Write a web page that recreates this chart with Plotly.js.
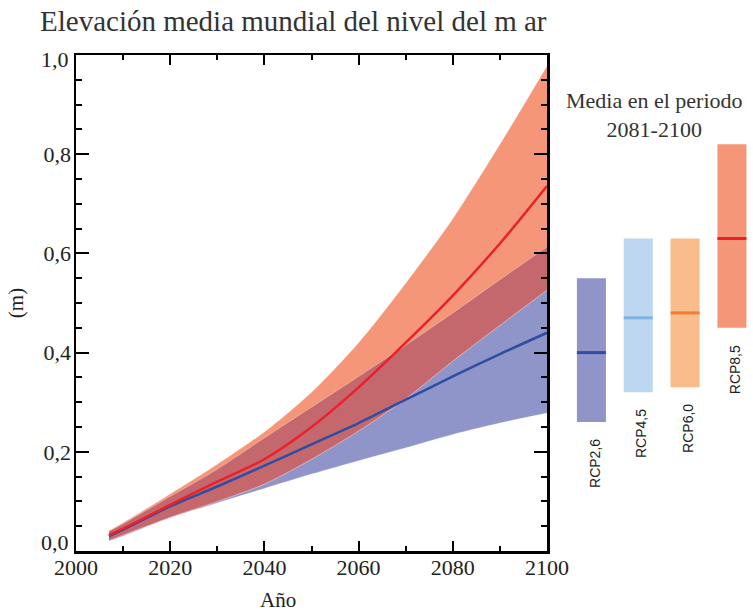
<!DOCTYPE html>
<html>
<head>
<meta charset="utf-8">
<script src="https://cdn.plot.ly/plotly-3.0.1.min.js"></script>
<style>html,body{margin:0;padding:0;background:#fff;}#chart{width:753px;height:611px;}</style>
</head>
<body>
<div id="chart"></div>
<script>
// ---- data ----
const years = [2007, 2010, 2020, 2030, 2040, 2050, 2060, 2070, 2080, 2090, 2100];
const rcp85Mean  = [0.032, 0.045, 0.093, 0.140, 0.185, 0.250, 0.330, 0.420, 0.515, 0.620, 0.736];
const rcp85Upper = [0.041, 0.057, 0.115, 0.175, 0.240, 0.320, 0.420, 0.540, 0.670, 0.820, 0.978];
const rcp85Lower = [0.021, 0.032, 0.068, 0.100, 0.135, 0.185, 0.242, 0.307, 0.383, 0.455, 0.526];
const rcp26Mean  = [0.030, 0.043, 0.090, 0.130, 0.172, 0.215, 0.258, 0.305, 0.352, 0.397, 0.440];
const rcp26Upper = [0.040, 0.055, 0.110, 0.165, 0.228, 0.290, 0.352, 0.415, 0.480, 0.547, 0.613];
const rcp26Lower = [0.020, 0.030, 0.067, 0.097, 0.126, 0.155, 0.182, 0.208, 0.235, 0.258, 0.278];

const scenarios   = ['RCP2,6', 'RCP4,5', 'RCP6,0', 'RCP8,5'];
const periodMean  = [0.40, 0.47, 0.48, 0.63];
const periodLow   = [0.26, 0.32, 0.33, 0.45];
const periodHigh  = [0.55, 0.63, 0.63, 0.82];

const yTickVals = [0, 0.2, 0.4, 0.6, 0.8, 1.0];
const xTickVals = [2000, 2020, 2040, 2060, 2080, 2100];

// ---- styles ----
const COL = {
  blueBand: '#9095C9', redBand: '#F59679', overlap: '#C5686E',
  blueLine: '#2E4DA3', redLine: '#E8212B', edge: 'rgba(255,255,255,0.35)'
};
const barFill = ['#9095C9', '#BDD7F0', '#F9BD8D', '#F59679'];
const barLine = ['#2E4DA3', '#80B3E1', '#F27E2E', '#E8212B'];
const serif = 'Liberation Serif, Times New Roman, serif';
const sans = 'Liberation Sans, Arial, sans-serif';
const tickFont = {family: serif, size: 22, color: '#222'};

const fmt = v => v.toFixed(1).replace('.', ',');
const yMin = yTickVals[0], yMax = yTickVals[yTickVals.length - 1];

const ovLow = rcp85Lower.map((v, i) => Math.max(v, rcp26Lower[i]));
const ovUp = rcp26Upper.map((v, i) => Math.min(v, rcp85Upper[i]));

const edge = {color: COL.edge, width: 0.8, shape: 'spline', smoothing: 0.8};
const traces = [
  {x: years, y: rcp26Lower, mode: 'lines', line: edge, hoverinfo: 'skip', showlegend: false},
  {x: years, y: rcp26Upper, mode: 'lines', line: edge, fill: 'tonexty', fillcolor: COL.blueBand, showlegend: false},
  {x: years, y: rcp85Lower, mode: 'lines', line: edge, hoverinfo: 'skip', showlegend: false},
  {x: years, y: rcp85Upper, mode: 'lines', line: edge, fill: 'tonexty', fillcolor: COL.redBand, showlegend: false},
  {x: years, y: ovLow, mode: 'lines', line: edge, hoverinfo: 'skip', showlegend: false},
  {x: years, y: ovUp, mode: 'lines', line: edge, fill: 'tonexty', fillcolor: COL.overlap, showlegend: false},
  {x: years, y: rcp26Mean, mode: 'lines', line: {color: COL.blueLine, width: 2.5, shape: 'spline', smoothing: 0.8}, name: 'RCP2,6', showlegend: false},
  {x: years, y: rcp85Mean, mode: 'lines', line: {color: COL.redLine, width: 2.5, shape: 'spline', smoothing: 0.8}, name: 'RCP8,5', showlegend: false},
  {type: 'bar', x: scenarios, base: periodLow, y: periodHigh.map((h, i) => h - periodLow[i]),
   marker: {color: barFill, line: {width: 0}}, width: 0.62, xaxis: 'x2', yaxis: 'y2', showlegend: false},
  {type: 'bar', x: scenarios, base: periodMean.map(m => m - 0.003), y: periodMean.map(() => 0.006),
   marker: {color: barLine, line: {width: 0}}, width: 0.62, xaxis: 'x2', yaxis: 'y2', showlegend: false}
];

const annotations = scenarios.map((s, i) => ({
  text: s, xref: 'x2', yref: 'y2', x: s, y: periodLow[i], yanchor: 'top', xanchor: 'center',
  textangle: -90, yshift: -15, xshift: 3, showarrow: false,
  font: {family: sans, size: 14, color: '#222'}
}));
// end labels of the y axis, nudged inward as in the reference
annotations.push({text: fmt(yMin), xref: 'paper', yref: 'y', x: 0, y: yMin, xanchor: 'right', yanchor: 'middle',
  xshift: -6, yshift: 9, showarrow: false, borderpad: 0, font: tickFont});
annotations.push({text: fmt(yMax), xref: 'paper', yref: 'y', x: 0, y: yMax, xanchor: 'right', yanchor: 'middle',
  xshift: -6, yshift: -4, showarrow: false, borderpad: 0, font: tickFont});
annotations.push({
  text: 'Media en el periodo<br>2081-2100', xref: 'paper', yref: 'paper',
  x: (654 - 76) / 677, y: 1 + (55 - 115) / 496, xanchor: 'center', yanchor: 'middle',
  showarrow: false, font: {family: serif, size: 22, color: '#333'}
});
annotations.push({
  text: 'Año', xref: 'paper', yref: 'paper', x: (278 - 76) / 677, y: -(600 - 551) / 496,
  xanchor: 'center', yanchor: 'middle', showarrow: false,
  font: {family: serif, size: 21, color: '#222'}
});

const layout = {
  width: 753, height: 611,
  margin: {l: 76, r: 0, t: 55, b: 60},
  paper_bgcolor: '#fff', plot_bgcolor: 'rgba(0,0,0,0)',
  separators: ',.',
  title: {text: 'Elevación media mundial del nivel del m ar', font: {family: serif, size: 29, color: '#333'},
          x: 40 / 753, xanchor: 'left', xref: 'container', y: 1 - 21 / 611, yanchor: 'middle', yref: 'container'},
  xaxis: {domain: [0, 471 / 677], range: [2000, 2100], tickvals: xTickVals, ticktext: xTickVals.map(String),
          ticks: 'inside', ticklen: 10, tickwidth: 2, tickcolor: '#000',
          minor: {dtick: 10, ticks: 'inside', ticklen: 5, tickwidth: 2, tickcolor: '#000'},
          showline: true, linewidth: 2.5, linecolor: '#000', mirror: 'allticks', showgrid: false, zeroline: false,
          tickfont: tickFont, ticklabelstandoff: -5},
  yaxis: {domain: [0, 1], range: [yMin, yMax], tickvals: yTickVals,
          ticktext: yTickVals.map(v => (v === yMin || v === yMax) ? '' : fmt(v)),
          ticks: 'inside', ticklen: 13, tickwidth: 2, tickcolor: '#000',
          minor: {dtick: 0.05, ticks: 'inside', ticklen: 6, tickwidth: 2, tickcolor: '#000'},
          showline: true, linewidth: 2.5, linecolor: '#000', mirror: 'allticks', showgrid: false, zeroline: false,
          tickfont: tickFont, ticklabelstandoff: -2,
          title: {text: '(m)', font: {family: serif, size: 21, color: '#222'}, standoff: 14}},
  xaxis2: {domain: [(568 - 76) / 677, 1], range: [-0.5, 3.45], type: 'category', visible: false, anchor: 'y2'},
  yaxis2: {domain: [0, 1], range: [0, 1], visible: false, anchor: 'x2'},
  barmode: 'overlay',
  annotations: annotations,
  showlegend: false
};

Plotly.newPlot('chart', traces, layout, {displayModeBar: false, staticPlot: true});
</script>
</body>
</html>
